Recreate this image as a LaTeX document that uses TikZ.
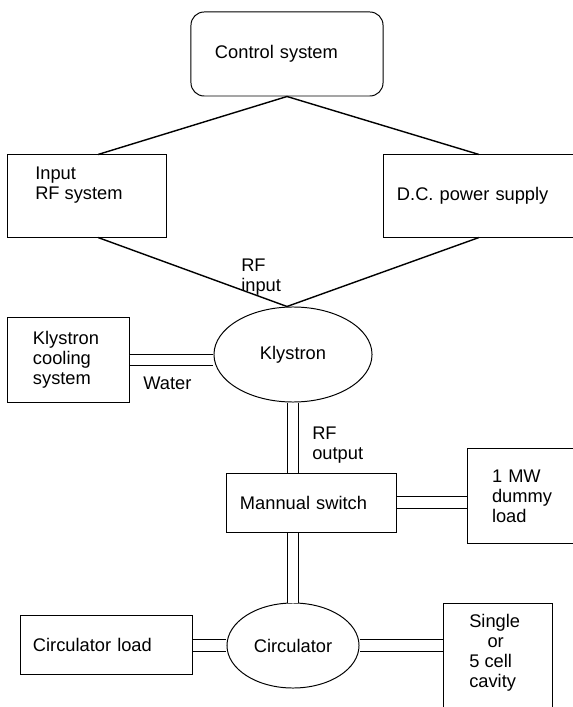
\documentclass[tikz,border=0pt]{standalone}
\usepackage{fontspec}
\setmainfont{Liberation Sans}
\usetikzlibrary{shapes.geometric}

\tikzset{
  every node/.style={font=\fontsize{13}{14.2}\selectfont},
  box/.style={draw, line width=0.7pt, inner ysep=0pt, align=left},
  oval/.style={draw, ellipse, line width=0.7pt, inner sep=0pt},
  wire/.style={line width=1pt},
  wguide/.style={draw, double, double distance=7.3pt, line width=0.7pt},
  tag/.style={inner sep=0pt, align=left}
}

\begin{document}
\begin{tikzpicture}[x=0.025cm, y=-0.025cm]
      \useasboundingbox (0,0) rectangle (572,707);

      \node[box, rounded corners=0.33cm, text width=3.6cm, inner xsep=0.6cm, minimum height=2.1cm] (ctrl) at (287,54) {Control system};
      \node[box, minimum width=3.95cm, minimum height=2.05cm] (inrf) at (87,196) {};
      \node[tag, anchor=north west] (inrftext) at (35,167) {Input\\RF system};
      \node[box, text width=4.1cm, inner xsep=0.325cm, minimum height=2.05cm] (dc) at (479,196) {D.C. power supply};

      \node[box, text width=1.775cm, inner xsep=0.625cm, minimum height=2.1cm] (cool) at (68.5,360) {Klystron\\cooling\\system};
      \node[oval, minimum width=3.95cm, minimum height=2.375cm] (kly) at (293,354.5) {Klystron};

      \node[box, text width=3.575cm, inner xsep=0.325cm, minimum height=1.475cm] (sw) at (311.5,502.5) {Mannual switch};
      \node[box, text width=1.6cm, inner xsep=0.625cm, minimum height=2.35cm] (dummy) at (524,496) {1 MW\\dummy\\load};

      \node[box, text width=3.675cm, inner xsep=0.3cm, minimum height=1.475cm] (cload) at (106.5,644.5) {Circulator load};
      \node[oval, minimum width=3.3cm, minimum height=2.125cm] (circ) at (293,645.5) {Circulator};
      \node[box, minimum width=2.725cm, minimum height=2.725cm] (cav) at (497.5,657.5) {};
      \node[tag, anchor=north west] (cavtext) at (469,614) {Single\\\hspace*{13pt}or\\5 cell\\cavity};

      \node[tag, anchor=north west] (rfin) at (241,259) {RF\\input};
      \node[tag, anchor=west] (water) at (143,383) {Water};
      \node[tag, anchor=north west] (rfout) at (312,427) {RF\\output};

      % control and supply lines
      \draw[wire] (ctrl.south) -- ([xshift=0.275cm]inrf.north);
      \draw[wire] (ctrl.south) -- (dc.north);
      \draw[wire] ([xshift=0.275cm]inrf.south) -- ([xshift=-0.15cm]kly.north);
      \draw[wire] (dc.south) -- ([xshift=-0.15cm]kly.north);

      % waveguides and water
      \draw[wguide] (cool.east) -- (cool.east -| kly.west);
      \draw[wguide] (kly.south) -- (kly.south |- sw.north);
      \draw[wguide] (sw.east) -- (sw.east -| dummy.west);
      \draw[wguide] (sw.south -| circ.north) -- (circ.north);
      \draw[wguide] (cload.east |- circ.west) -- (circ.west);
      \draw[wguide] (circ.east) -- (circ.east -| cav.west);

    \end{tikzpicture}
\end{document}
